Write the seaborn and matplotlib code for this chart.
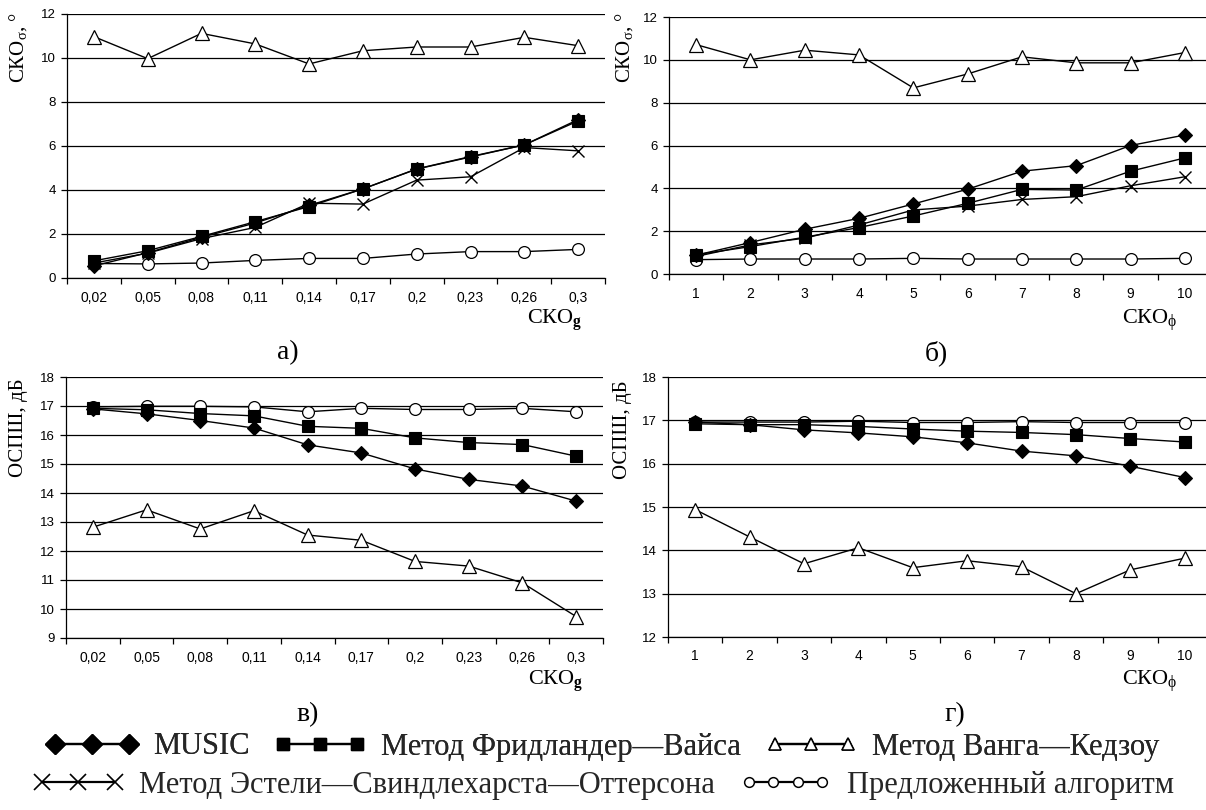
import numpy as np
import pandas as pd
import matplotlib
matplotlib.use("Agg")
import matplotlib.pyplot as plt
import seaborn as sns
from matplotlib.lines import Line2D
from matplotlib.legend_handler import HandlerLine2D
from matplotlib.ticker import FixedLocator

sns.set_theme(style="white")
plt.rcParams['font.family'] = ['Liberation Sans', 'DejaVu Sans']
plt.rcParams['mathtext.fontset'] = 'custom'
plt.rcParams['mathtext.rm'] = 'Liberation Serif'
plt.rcParams['mathtext.it'] = 'Liberation Serif:italic'
plt.rcParams['mathtext.bf'] = 'Liberation Serif:bold'

# ---------------- data ----------------
g_labels = ["0,02", "0,05", "0,08", "0,11", "0,14", "0,17", "0,2", "0,23", "0,26", "0,3"]
phi_labels = [1, 2, 3, 4, 5, 6, 7, 8, 9, 10]

names = ["MUSIC", "Метод Фридландер—Вайса", "Метод Ванга—Кедзоу",
         "Метод Эстели—Свиндлехарста—Оттерсона", "Предложенный алгоритм"]

# panel а) СКО_σ vs СКО_g
a_music = [0.55, 1.15, 1.85, 2.5, 3.3, 4.05, 4.95, 5.5, 6.05, 7.2]
a_fw = [0.78, 1.24, 1.89, 2.56, 3.25, 4.05, 4.96, 5.52, 6.05, 7.14]
a_wk = [10.97, 9.97, 11.12, 10.64, 9.73, 10.33, 10.5, 10.5, 10.94, 10.56]
a_esh = [0.68, 1.13, 1.79, 2.3, 3.4, 3.36, 4.45, 4.6, 5.93, 5.78]
a_prop = [0.66, 0.64, 0.68, 0.8, 0.89, 0.89, 1.09, 1.2, 1.2, 1.3]

# panel б) СКО_σ vs СКО_ϕ
b_music = [0.88, 1.47, 2.09, 2.6, 3.27, 3.96, 4.8, 5.06, 6.0, 6.49]
b_fw = [0.9, 1.28, 1.72, 2.17, 2.71, 3.3, 3.95, 3.92, 4.8, 5.42]
b_wk = [10.71, 10.0, 10.45, 10.23, 8.69, 9.34, 10.14, 9.86, 9.86, 10.34]
b_esh = [0.82, 1.36, 1.67, 2.29, 2.99, 3.17, 3.48, 3.61, 4.12, 4.54]
b_prop = [0.67, 0.7, 0.7, 0.7, 0.73, 0.7, 0.7, 0.7, 0.7, 0.73]

# panel в) ОСПШ vs СКО_g
c_music = [16.9, 16.73, 16.5, 16.24, 15.66, 15.38, 14.83, 14.47, 14.24, 13.72]
c_fw = [16.92, 16.87, 16.74, 16.66, 16.3, 16.23, 15.9, 15.74, 15.67, 15.27]
c_wk = [12.82, 13.42, 12.76, 13.39, 12.55, 12.37, 11.64, 11.48, 10.9, 9.74]
c_prop = [16.97, 16.99, 16.99, 16.97, 16.8, 16.92, 16.88, 16.88, 16.92, 16.8]

# panel г) ОСПШ vs СКО_ϕ
d_music = [16.96, 16.9, 16.78, 16.71, 16.62, 16.48, 16.29, 16.18, 15.94, 15.68]
d_fw = [16.92, 16.9, 16.9, 16.86, 16.8, 16.75, 16.72, 16.67, 16.58, 16.5]
d_wk = [14.94, 14.31, 13.69, 14.06, 13.6, 13.76, 13.62, 13.0, 13.55, 13.82]
d_prop = [16.96, 16.96, 16.96, 16.98, 16.95, 16.95, 16.97, 16.95, 16.95, 16.95]

# ---------------- styles ----------------
styles = {
    names[0]: dict(marker="D", ms=7.5, mfc="black", mew=0.8, lms=10.5),
    names[1]: dict(marker="s", ms=8.5, mfc="black", mew=0.8, lms=8.5),
    names[2]: dict(marker="^", ms=10, mfc="white", mew=0.9, lms=9),
    names[3]: dict(marker="x", ms=9, mfc="black", mew=1.0, lms=12),
    names[4]: dict(marker="o", ms=8.5, mfc="white", mew=0.9, lms=7),
}

W, H = 1206, 810
fig = plt.figure(figsize=(W / 100, H / 100), dpi=100)


def rect(l, r, t, b):
    return [l / W, 1 - b / H, (r - l) / W, (b - t) / H]


ax_a = fig.add_axes(rect(67, 605, 14, 278))
ax_b = fig.add_axes(rect(669, 1206, 17, 274))
ax_c = fig.add_axes(rect(66, 603, 377, 638))
ax_d = fig.add_axes(rect(668, 1206, 377, 637))


def draw(ax, x, series, ylim, yticks, xlim, bounds):
    for name, vals in series:
        st = styles[name]
        df = pd.DataFrame({"x": x, "y": vals})
        sns.lineplot(data=df, x="x", y="y", ax=ax, sort=False, color="black",
                     lw=1.0, marker=st["marker"], markersize=st["ms"],
                     markerfacecolor=st["mfc"], markeredgecolor="black",
                     markeredgewidth=st["mew"], legend=False, errorbar=None)
    ax.set_ylim(*ylim)
    ax.set_yticks(yticks)
    ax.set_xlim(*xlim)
    ax.xaxis.set_minor_locator(FixedLocator(bounds))
    ax.set_xlabel("")
    ax.set_ylabel("")
    ax.yaxis.grid(True, color="black", lw=0.9)
    ax.set_axisbelow(True)
    for s in ["top", "right"]:
        ax.spines[s].set_visible(False)
    for s in ["left", "bottom"]:
        ax.spines[s].set_color("black")
        ax.spines[s].set_linewidth(0.9)
    ax.tick_params(axis="x", which="major", length=0, pad=9, labelsize=10, colors="black")
    ax.tick_params(axis="x", which="minor", length=4, width=0.9, direction="out",
                   color="black", bottom=True)
    ax.tick_params(axis="y", which="major", length=4, width=0.9, direction="out",
                   pad=4, labelsize=9.5, colors="black", left=True)
    ax.set_facecolor("white")


draw(ax_a, g_labels,
     [(names[2], a_wk), (names[4], a_prop), (names[3], a_esh), (names[0], a_music), (names[1], a_fw)],
     (0, 12), np.arange(0, 13, 2), (-0.5, 9.5), np.arange(-0.5, 10, 1))
draw(ax_b, phi_labels,
     [(names[2], b_wk), (names[4], b_prop), (names[3], b_esh), (names[1], b_fw), (names[0], b_music)],
     (0, 12), np.arange(0, 13, 2), (0.5, 10.39), np.arange(0.5, 11, 1))
ax_b.set_xticks(phi_labels)
draw(ax_c, g_labels,
     [(names[2], c_wk), (names[4], c_prop), (names[0], c_music), (names[1], c_fw)],
     (9, 18), np.arange(9, 19, 1), (-0.5, 9.5), np.arange(-0.5, 10, 1))
draw(ax_d, phi_labels,
     [(names[2], d_wk), (names[4], d_prop), (names[0], d_music), (names[1], d_fw)],
     (12, 18), np.arange(12, 19, 1), (0.5, 10.39), np.arange(0.5, 11, 1))
ax_d.set_xticks(phi_labels)

serif = "Liberation Serif"

# y labels (placed at top of axes)
for xp, yp, txt in [(18, 12, "СКО$_{\\mathrm{σ}}$, °"), (624, 12, "СКО$_{\\mathrm{σ}}$, °"),
                    (19, 378, "ОСПШ, дБ"), (622, 380, "ОСПШ, дБ")]:
    fig.text(xp / W, 1 - yp / H, txt, rotation=90, ha="center", va="top",
             family=serif, fontsize=15, color="black")

# x labels
for xp, yp, txt in [(582, 320, "СКО$_{\\mathbf{g}}$"), (1178, 320, "СКО$_{\\mathrm{ϕ}}$"),
                    (583, 681, "СКО$_{\\mathbf{g}}$"), (1178, 681, "СКО$_{\\mathrm{ϕ}}$")]:
    fig.text(xp / W, 1 - yp / H, txt, ha="right", va="center",
             family=serif, fontsize=16, color="black")

# panel letters
for xp, yp, txt in [(288, 353, "а)"), (936, 353, "б)"), (308, 715, "в)"), (955, 715, "г)")]:
    fig.text(xp / W, 1 - yp / H, txt, ha="center", va="center",
             family=serif, fontsize=20, color="black")

# legend
handles = {}
for n in names:
    st = styles[n]
    handles[n] = Line2D([], [], color="black", lw=1.6, marker=st["marker"],
                        markersize=st["lms"], markerfacecolor=st["mfc"],
                        markeredgecolor="black", markeredgewidth=st["mew"] * 1.2)

common = dict(loc="center", frameon=False, prop={"family": serif, "size": 22},
              handlelength=3.0, handletextpad=0.5, columnspacing=0.8,
              numpoints=3, borderpad=0, borderaxespad=0)
leg1 = fig.legend([handles[n] for n in names[:3]], names[:3], ncol=3,
                  bbox_to_anchor=(0.5, 1 - 747 / H), **common)
fig.add_artist(leg1)
leg2 = fig.legend([handles[n] for n in names[3:]], names[3:], ncol=2,
                  bbox_to_anchor=(0.5, 1 - 785 / H),
                  handler_map={handles[names[4]]: HandlerLine2D(numpoints=4)}, **common)

fig.savefig("out.png", dpi=100, facecolor="white")
